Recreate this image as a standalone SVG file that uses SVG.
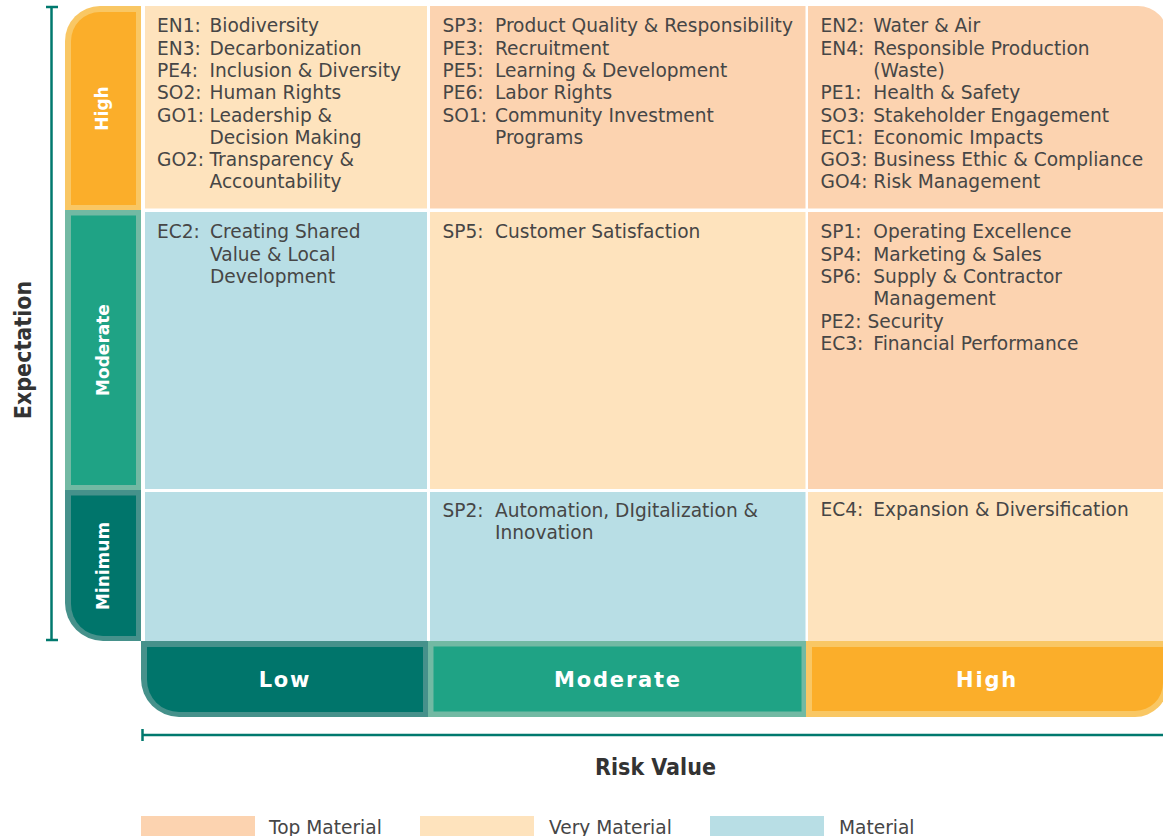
<svg xmlns="http://www.w3.org/2000/svg" width="1163" height="836" viewBox="0 0 1163 836">
<style>
.txt{font-family:"DejaVu Sans","Liberation Sans",sans-serif;font-size:18.6px;fill:#464646}
.lab{font-family:"DejaVu Sans","Liberation Sans",sans-serif;font-weight:bold;fill:#ffffff;text-anchor:middle}
.vl{font-size:17px}
.hl{font-size:21px;letter-spacing:1.8px}
.title{font-family:"DejaVu Sans Condensed","DejaVu Sans",sans-serif;font-stretch:condensed;font-weight:bold;font-size:23px;fill:#333333;text-anchor:middle}
.top{fill:#fcd3b0}
.very{fill:#fee3bd}
.mat{fill:#b8dee5}
.oB{fill:#f9c764}.oI{fill:#fbae2a}
.mB{fill:#72b9a3}.mI{fill:#1fa385}
.dB{fill:#46918b}.dI{fill:#00756b}
.axis{stroke:#00796e;stroke-width:2.5;fill:none}
</style>
<rect width="1163" height="836" fill="#ffffff"/>

<g id="axes">
<line class="axis" x1="51.5" y1="7" x2="51.5" y2="640"/>
<line class="axis" x1="46" y1="7" x2="58" y2="7"/>
<line class="axis" x1="46" y1="640" x2="58" y2="640"/>
<line class="axis" x1="142.5" y1="735" x2="1163" y2="735"/>
<line class="axis" x1="142.5" y1="729" x2="142.5" y2="741"/>
<text class="title" transform="translate(31,350) rotate(-90)">Expectation</text>
<text class="title" x="655.5" y="775">Risk Value</text>
</g>

<g id="row-labels">
<g id="label-exp-high">
<path class="oB" d="M65,210 V41 A35,35 0 0 1 100,6 H141 V210 Z"/>
<path class="oI" d="M71,205 V41 A29,29 0 0 1 100,12 H136 V205 Z"/>
<text class="lab vl" transform="translate(108,108.5) rotate(-90)">High</text>
</g>
<g id="label-exp-moderate">
<rect class="mB" x="65" y="210" width="76" height="280"/>
<rect class="mI" x="71" y="215.5" width="65" height="269.5"/>
<text class="lab vl" transform="translate(109,350) rotate(-90)">Moderate</text>
</g>
<g id="label-exp-minimum">
<path class="dB" d="M65,490 H141 V641 H103 A38,38 0 0 1 65,603 Z"/>
<path class="dI" d="M71,495.5 H136 V636 H103 A32,32 0 0 1 71,604 Z"/>
<text class="lab vl" transform="translate(109,566) rotate(-90)">Minimum</text>
</g>
</g>

<g id="col-labels">
<g id="label-risk-low">
<path class="dB" d="M141,641 H428 V717 H179 A38,38 0 0 1 141,679 Z"/>
<path class="dI" d="M147,647 H423 V712 H179 A32,32 0 0 1 147,680 Z"/>
<text class="lab hl" x="285" y="687">Low</text>
</g>
<g id="label-risk-moderate">
<rect class="mB" x="428" y="641" width="378" height="76"/>
<rect class="mI" x="433.5" y="646.5" width="368" height="65"/>
<text class="lab hl" x="618" y="687">Moderate</text>
</g>
<g id="label-risk-high">
<path class="oB" d="M806,641 H1168 V684 A33,33 0 0 1 1135,717 H806 Z"/>
<path class="oI" d="M812,647 H1163 V683 A28,28 0 0 1 1135,711 H812 Z"/>
<text class="lab hl" x="987" y="687">High</text>
</g>
</g>

<g id="cell-r1c1">
<rect class="very" x="145" y="6" width="282" height="202.5"/>
<text class="txt"><tspan x="157" y="32.3">EN1:</tspan><tspan x="209.5" y="32.3">Biodiversity</tspan><tspan x="157" y="54.6">EN3:</tspan><tspan x="209.5" y="54.6">Decarbonization</tspan><tspan x="157" y="76.9">PE4:</tspan><tspan x="209.5" y="76.9">Inclusion &amp; Diversity</tspan><tspan x="157" y="99.2">SO2:</tspan><tspan x="209.5" y="99.2">Human Rights</tspan><tspan x="157" y="121.5">GO1:</tspan><tspan x="209.5" y="121.5">Leadership &amp;</tspan><tspan x="209.5" y="143.8">Decision Making</tspan><tspan x="157" y="166.1">GO2:</tspan><tspan x="209.5" y="166.1">Transparency &amp;</tspan><tspan x="209.5" y="188.4">Accountability</tspan></text>
</g>
<g id="cell-r1c2">
<rect class="top" x="430" y="6" width="375.5" height="202.5"/>
<text class="txt"><tspan x="442.5" y="32.3">SP3:</tspan><tspan x="495" y="32.3">Product Quality &amp; Responsibility</tspan><tspan x="442.5" y="54.6">PE3:</tspan><tspan x="495" y="54.6">Recruitment</tspan><tspan x="442.5" y="76.9">PE5:</tspan><tspan x="495" y="76.9">Learning &amp; Development</tspan><tspan x="442.5" y="99.2">PE6:</tspan><tspan x="495" y="99.2">Labor Rights</tspan><tspan x="442.5" y="121.5">SO1:</tspan><tspan x="495" y="121.5">Community Investment</tspan><tspan x="495" y="143.8">Programs</tspan></text>
</g>
<g id="cell-r1c3">
<path class="top" d="M808,6 H1138 A30,30 0 0 1 1168,36 V208.5 H808 Z"/>
<text class="txt"><tspan x="820.5" y="32.3">EN2:</tspan><tspan x="873.3" y="32.3">Water &amp; Air</tspan><tspan x="820.5" y="54.6">EN4:</tspan><tspan x="873.3" y="54.6">Responsible Production</tspan><tspan x="873.3" y="76.9">(Waste)</tspan><tspan x="820.5" y="99.2">PE1:</tspan><tspan x="873.3" y="99.2">Health &amp; Safety</tspan><tspan x="820.5" y="121.5">SO3:</tspan><tspan x="873.3" y="121.5">Stakeholder Engagement</tspan><tspan x="820.5" y="143.8">EC1:</tspan><tspan x="873.3" y="143.8">Economic Impacts</tspan><tspan x="820.5" y="166.1">GO3:</tspan><tspan x="873.3" y="166.1">Business Ethic &amp; Compliance</tspan><tspan x="820.5" y="188.4">GO4:</tspan><tspan x="873.3" y="188.4">Risk Management</tspan></text>
</g>

<g id="cell-r2c1">
<rect class="mat" x="145" y="212" width="282" height="277"/>
<text class="txt"><tspan x="157" y="238.3">EC2:</tspan><tspan x="210" y="238.3">Creating Shared</tspan><tspan x="210" y="260.6">Value &amp; Local</tspan><tspan x="210" y="282.9">Development</tspan></text>
</g>
<g id="cell-r2c2">
<rect class="very" x="430" y="212" width="375.5" height="277"/>
<text class="txt"><tspan x="442.5" y="238.3">SP5:</tspan><tspan x="495" y="238.3">Customer Satisfaction</tspan></text>
</g>
<g id="cell-r2c3">
<rect class="top" x="808" y="212" width="360" height="277"/>
<text class="txt"><tspan x="820.5" y="238.3">SP1:</tspan><tspan x="873.3" y="238.3">Operating Excellence</tspan><tspan x="820.5" y="260.6">SP4:</tspan><tspan x="873.3" y="260.6">Marketing &amp; Sales</tspan><tspan x="820.5" y="282.9">SP6:</tspan><tspan x="873.3" y="282.9">Supply &amp; Contractor</tspan><tspan x="873.3" y="305.2">Management</tspan><tspan x="820.5" y="327.5">PE2: Security</tspan><tspan x="820.5" y="349.8">EC3:</tspan><tspan x="873.3" y="349.8">Financial Performance</tspan></text>
</g>

<g id="cell-r3c1">
<rect class="mat" x="145" y="492" width="282" height="149"/>
</g>
<g id="cell-r3c2">
<rect class="mat" x="430" y="492" width="375.5" height="149"/>
<text class="txt"><tspan x="442.5" y="516.6">SP2:</tspan><tspan x="495" y="516.6">Automation, DIgitalization &amp;</tspan><tspan x="495" y="538.9">Innovation</tspan></text>
</g>
<g id="cell-r3c3">
<rect class="very" x="808" y="492" width="360" height="149"/>
<text class="txt"><tspan x="820.5" y="515.8">EC4:</tspan><tspan x="873.3" y="515.8">Expansion &amp; Diversification</tspan></text>
</g>

<g id="legend">
<rect class="top" x="141" y="816" width="114" height="25"/>
<text class="txt" x="269" y="833.5">Top Material</text>
<rect class="very" x="420" y="816" width="114" height="25"/>
<text class="txt" x="549" y="833.5">Very Material</text>
<rect class="mat" x="710" y="816" width="114" height="25"/>
<text class="txt" x="839" y="833.5">Material</text>
</g>
</svg>
